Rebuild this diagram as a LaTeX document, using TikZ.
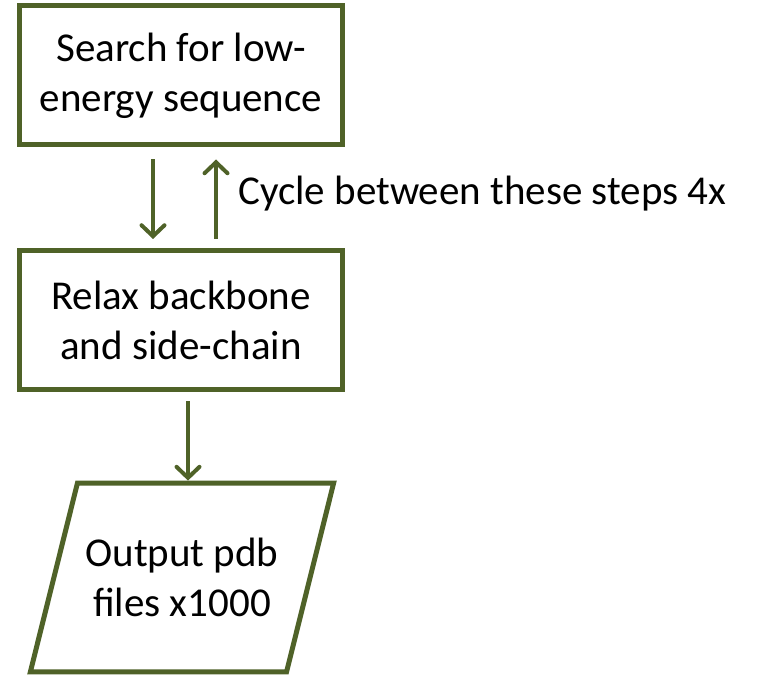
\documentclass[tikz,border=0pt]{standalone}
\usepackage{fontspec}
\setmainfont{Carlito}
\usetikzlibrary{arrows.meta,shapes.geometric}
\definecolor{olivedark}{RGB}{79,98,40}
\begin{document}
\begin{tikzpicture}[x=1pt,y=-1pt]
        \tikzset{
            stepbox/.style={draw=olivedark, line width=5pt, fill=white,
              minimum width=323pt, minimum height=139pt, align=center,
              font=\fontsize{41}{50}\selectfont},
            outbox/.style={stepbox, trapezium,
              trapezium left angle=76, trapezium right angle=104,
              minimum width=0pt, minimum height=0pt,
              inner xsep=8pt, inner ysep=55pt},
            flow/.style={draw=olivedark, line width=4pt,
              -{Straight Barb[length=11pt,width=23pt,line cap=round]}}
          }
        \useasboundingbox (0,0) rectangle (765,676);

        \node[stepbox] (search) at (181,75.5) {Search for low-\\energy sequence};
        \node[stepbox] (relax) at (181,320) {Relax backbone\\and side-chain};
        \node[outbox] (output) at (182,577.5) {Output pdb\\files x1000};
        \node[anchor=base west, inner sep=0pt, font=\fontsize{41}{50}\selectfont]
            (cycle) at (238,205) {Cycle between these steps 4x};

        \draw[flow] ([xshift=-28pt,yshift=-12pt]search.south) -- ([xshift=-28pt,yshift=9pt]relax.north);
        \draw[flow] ([xshift=35pt,yshift=9pt]relax.north) -- ([xshift=35pt,yshift=-12pt]search.south);
        \draw[flow] ([xshift=7pt,yshift=-9pt]relax.south) -- ([xshift=7pt]relax.south |- output.north);
    \end{tikzpicture}
\end{document}
